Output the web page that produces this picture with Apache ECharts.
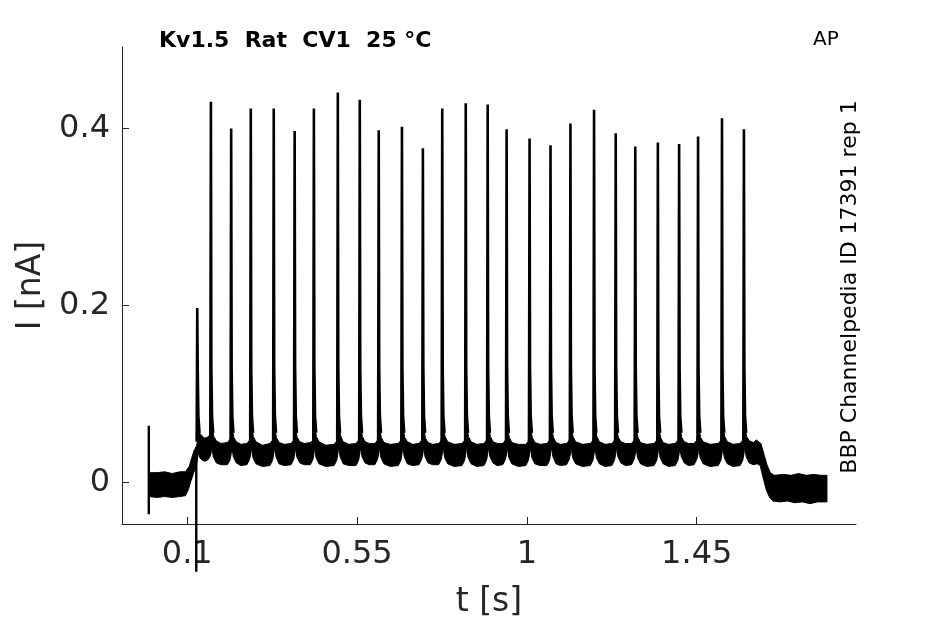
<!DOCTYPE html>
<html>
<head>
<meta charset="utf-8">
<script src="https://cdn.jsdelivr.net/npm/echarts@6/dist/echarts.min.js"></script>
<style>html,body{margin:0;padding:0;background:#fff;}#c{width:945px;height:624px;}</style>
</head>
<body>
<div id="c"></div>
<script>
// ---- data ----
const xTicks = [0.1, 0.55, 1, 1.45];
const yTicks = [0, 0.2, 0.4];
const spikeTimes = [0.1264, 0.1626, 0.2163, 0.2683, 0.3291, 0.3845, 0.4355, 0.4989, 0.5571, 0.6073, 0.6688, 0.7243, 0.7756, 0.8379, 0.8960, 0.9462, 1.0070, 1.0625, 1.1153, 1.1779, 1.2353, 1.2871, 1.3470, 1.4033, 1.4535, 1.5169, 1.5750];
const spikePeaks = [0.197, 0.430, 0.400, 0.4225, 0.4225, 0.397, 0.4225, 0.4405, 0.4325, 0.398, 0.402, 0.3775, 0.4225, 0.4285, 0.427, 0.399, 0.3885, 0.381, 0.4055, 0.421, 0.3945, 0.3795, 0.384, 0.3825, 0.391, 0.4115, 0.399];
// stimulus artifacts: [t, low, high]
const artifacts = [[-0.002, -0.036, 0.064], [0.1238, -0.101, 0.040]];
// upper edge of the noisy current band [t, I]
const upperEdge = [
[-0.002,0.011],[0.02,0.011],[0.04,0.012],[0.06,0.010],[0.08,0.012],[0.095,0.012],[0.105,0.018],[0.112,0.028],[0.118,0.036],[0.1235,0.040],[0.1264,0.045],
[0.129,0.062],[0.134,0.055],[0.141,0.052],[0.145,0.050],[0.153,0.051],[0.159,0.053],[0.1626,0.056],
[0.166,0.063],[0.170,0.052],[0.177,0.047],[0.189,0.044],[0.206,0.045],[0.212,0.048],[0.2163,0.052],
[0.219,0.062],[0.223,0.051],[0.230,0.046],[0.242,0.043],[0.258,0.044],[0.264,0.047],[0.2683,0.052],
[0.271,0.063],[0.275,0.052],[0.282,0.046],[0.299,0.042],[0.319,0.044],[0.325,0.047],[0.3291,0.052],
[0.332,0.062],[0.336,0.051],[0.343,0.045],[0.357,0.043],[0.375,0.044],[0.381,0.047],[0.3845,0.052],
[0.387,0.061],[0.391,0.051],[0.398,0.046],[0.410,0.044],[0.426,0.045],[0.432,0.047],[0.4355,0.052],
[0.438,0.063],[0.442,0.052],[0.449,0.046],[0.467,0.042],[0.489,0.043],[0.495,0.046],[0.4989,0.052],
[0.502,0.064],[0.506,0.053],[0.513,0.046],[0.528,0.043],[0.547,0.044],[0.553,0.047],[0.5571,0.052],
[0.560,0.063],[0.564,0.052],[0.571,0.046],[0.582,0.044],[0.597,0.044],[0.603,0.047],[0.6073,0.052],
[0.610,0.062],[0.614,0.051],[0.621,0.045],[0.638,0.043],[0.659,0.044],[0.665,0.047],[0.6688,0.052],
[0.672,0.062],[0.676,0.051],[0.683,0.046],[0.697,0.043],[0.714,0.044],[0.720,0.047],[0.7243,0.052],
[0.727,0.061],[0.731,0.050],[0.738,0.045],[0.750,0.043],[0.766,0.044],[0.772,0.047],[0.7756,0.052],
[0.779,0.063],[0.783,0.052],[0.790,0.046],[0.807,0.043],[0.828,0.044],[0.834,0.047],[0.8379,0.052],
[0.841,0.063],[0.845,0.052],[0.852,0.046],[0.867,0.043],[0.886,0.044],[0.892,0.047],[0.8960,0.052],
[0.899,0.063],[0.903,0.052],[0.910,0.046],[0.921,0.044],[0.936,0.044],[0.942,0.047],[0.9462,0.052],
[0.949,0.062],[0.953,0.051],[0.960,0.045],[0.977,0.043],[0.997,0.043],[1.003,0.046],[1.0070,0.052],
[1.010,0.062],[1.014,0.051],[1.021,0.045],[1.035,0.043],[1.053,0.044],[1.059,0.047],[1.0625,0.052],
[1.066,0.061],[1.070,0.051],[1.077,0.045],[1.089,0.043],[1.105,0.044],[1.111,0.047],[1.1153,0.052],
[1.118,0.062],[1.122,0.052],[1.129,0.046],[1.147,0.043],[1.168,0.044],[1.174,0.047],[1.1779,0.052],
[1.181,0.063],[1.185,0.052],[1.192,0.046],[1.207,0.043],[1.225,0.044],[1.231,0.047],[1.2353,0.052],
[1.238,0.062],[1.242,0.051],[1.249,0.046],[1.261,0.044],[1.277,0.044],[1.283,0.047],[1.2871,0.052],
[1.290,0.061],[1.294,0.051],[1.301,0.045],[1.317,0.043],[1.337,0.044],[1.343,0.047],[1.3470,0.052],
[1.350,0.062],[1.354,0.051],[1.361,0.045],[1.375,0.043],[1.393,0.044],[1.399,0.047],[1.4033,0.052],
[1.406,0.062],[1.410,0.051],[1.417,0.046],[1.428,0.044],[1.443,0.044],[1.449,0.047],[1.4535,0.052],
[1.456,0.062],[1.460,0.051],[1.467,0.046],[1.485,0.043],[1.507,0.044],[1.513,0.047],[1.5169,0.052],
[1.520,0.063],[1.524,0.052],[1.531,0.046],[1.546,0.043],[1.565,0.044],[1.571,0.047],[1.5750,0.052],
[1.578,0.062],[1.582,0.052],[1.589,0.047],[1.600,0.045],[1.608,0.048],[1.614,0.046],[1.620,0.044],[1.628,0.032],[1.636,0.020],[1.645,0.011],[1.655,0.008],
[1.68,0.009],[1.70,0.008],[1.72,0.010],[1.74,0.008],[1.76,0.009],[1.78,0.008],[1.795,0.008]
];
// lower edge of the noisy current band [t, I]
const lowerEdge = [
[-0.002,-0.016],[0.02,-0.017],[0.04,-0.016],[0.06,-0.017],[0.08,-0.016],[0.095,-0.015],[0.103,-0.008],[0.110,0.002],[0.117,0.011],[0.123,0.018],[0.1264,0.024],
[0.129,0.034],[0.133,0.028],[0.140,0.025],[0.146,0.024],[0.153,0.025],[0.159,0.028],[0.1626,0.032],
[0.165,0.040],[0.169,0.029],[0.177,0.022],[0.189,0.020],[0.206,0.020],[0.213,0.025],[0.2163,0.032],
[0.218,0.040],[0.222,0.029],[0.230,0.022],[0.242,0.019],[0.258,0.020],[0.265,0.026],[0.2683,0.032],
[0.270,0.040],[0.274,0.028],[0.282,0.021],[0.299,0.018],[0.319,0.019],[0.326,0.025],[0.3291,0.032],
[0.331,0.040],[0.335,0.029],[0.343,0.021],[0.357,0.019],[0.375,0.020],[0.382,0.026],[0.3845,0.032],
[0.386,0.040],[0.390,0.029],[0.398,0.022],[0.410,0.020],[0.426,0.020],[0.433,0.026],[0.4355,0.032],
[0.437,0.040],[0.441,0.028],[0.449,0.021],[0.467,0.018],[0.489,0.019],[0.496,0.025],[0.4989,0.032],
[0.501,0.040],[0.505,0.029],[0.513,0.021],[0.528,0.019],[0.547,0.019],[0.554,0.025],[0.5571,0.032],
[0.559,0.040],[0.563,0.029],[0.571,0.022],[0.582,0.020],[0.597,0.020],[0.604,0.026],[0.6073,0.032],
[0.609,0.040],[0.613,0.028],[0.621,0.021],[0.638,0.018],[0.659,0.019],[0.666,0.025],[0.6688,0.032],
[0.671,0.040],[0.675,0.029],[0.683,0.021],[0.697,0.019],[0.714,0.020],[0.721,0.026],[0.7243,0.032],
[0.726,0.040],[0.730,0.029],[0.738,0.022],[0.750,0.020],[0.766,0.020],[0.773,0.026],[0.7756,0.032],
[0.778,0.040],[0.782,0.028],[0.790,0.021],[0.807,0.018],[0.828,0.019],[0.835,0.025],[0.8379,0.032],
[0.840,0.040],[0.844,0.028],[0.852,0.021],[0.867,0.018],[0.886,0.019],[0.893,0.025],[0.8960,0.032],
[0.898,0.040],[0.902,0.029],[0.910,0.022],[0.921,0.019],[0.936,0.020],[0.943,0.026],[0.9462,0.032],
[0.948,0.040],[0.952,0.028],[0.960,0.021],[0.977,0.018],[0.997,0.019],[1.004,0.025],[1.0070,0.032],
[1.009,0.040],[1.013,0.028],[1.021,0.021],[1.035,0.019],[1.053,0.019],[1.060,0.025],[1.0625,0.032],
[1.065,0.040],[1.069,0.029],[1.077,0.021],[1.089,0.019],[1.105,0.020],[1.112,0.026],[1.1153,0.032],
[1.117,0.040],[1.121,0.028],[1.129,0.021],[1.147,0.018],[1.168,0.019],[1.175,0.025],[1.1779,0.032],
[1.180,0.040],[1.184,0.028],[1.192,0.021],[1.207,0.018],[1.225,0.019],[1.232,0.025],[1.2353,0.032],
[1.237,0.040],[1.241,0.029],[1.249,0.022],[1.261,0.019],[1.277,0.020],[1.284,0.026],[1.2871,0.032],
[1.289,0.040],[1.293,0.028],[1.301,0.021],[1.317,0.018],[1.337,0.019],[1.344,0.025],[1.3470,0.032],
[1.349,0.040],[1.353,0.028],[1.361,0.021],[1.375,0.018],[1.393,0.019],[1.400,0.025],[1.4033,0.032],
[1.405,0.040],[1.409,0.029],[1.417,0.022],[1.428,0.019],[1.443,0.020],[1.450,0.026],[1.4535,0.032],
[1.455,0.040],[1.459,0.028],[1.467,0.021],[1.485,0.018],[1.507,0.019],[1.514,0.025],[1.5169,0.032],
[1.519,0.040],[1.523,0.028],[1.531,0.021],[1.546,0.018],[1.565,0.019],[1.572,0.025],[1.5750,0.032],
[1.577,0.040],[1.581,0.029],[1.589,0.022],[1.600,0.020],[1.610,0.021],[1.618,0.019],[1.626,0.005],[1.634,-0.008],[1.643,-0.017],[1.652,-0.021],
[1.67,-0.022],[1.69,-0.021],[1.71,-0.023],[1.73,-0.022],[1.75,-0.024],[1.77,-0.022],[1.795,-0.022]
];

// ---- build series data ----
const spikeLine = [];
spikeTimes.forEach((t, i) => {
  spikeLine.push([t - 0.0016, 0.046], [t, spikePeaks[i]], [t + 0.0012, 0.13], [t + 0.003, 0.075], [t + 0.006, 0.056], [null, null]);
});
const artifactLine = [];
artifacts.forEach(a => { artifactLine.push([a[0], a[1]], [a[0], a[2]], [null, null]); });

const textColor = '#262626';
const chart = echarts.init(document.getElementById('c'), null, {renderer: 'canvas'});
chart.setOption({
  animation: false,
  backgroundColor: '#fff',
  grid: {left: 122, right: 89, top: 47, bottom: 98, containLabel: false},
  title: [
    {text: 'Kv1.5  Rat  CV1  25 °C', left: 154, top: 25,
     textStyle: {fontFamily: 'DejaVu Sans', fontWeight: 'bold', fontSize: 22, color: '#000'}},
    {text: 'AP', left: 808, top: 25,
     textStyle: {fontFamily: 'DejaVu Sans', fontWeight: 'normal', fontSize: 20, color: '#000'}}
  ],
  graphic: [{
    type: 'text', x: 850, y: 287, rotation: Math.PI / 2,
    style: {text: 'BBP Channelpedia ID 17391 rep 1', fontFamily: 'DejaVu Sans', fontSize: 22,
            fill: '#000', align: 'center', verticalAlign: 'middle'}
  }],
  xAxis: {
    type: 'value', min: -0.073, max: 1.872,
    name: 't [s]', nameLocation: 'middle', nameGap: 62,
    nameTextStyle: {fontFamily: 'DejaVu Sans', fontSize: 33, color: textColor},
    axisLine: {show: true, onZero: false, lineStyle: {color: textColor, width: 1}},
    axisTick: {show: true, inside: true, length: 7, customValues: xTicks, lineStyle: {color: textColor}},
    axisLabel: {customValues: xTicks, margin: 15, fontFamily: 'DejaVu Sans', fontSize: 32, color: textColor},
    splitLine: {show: false}
  },
  yAxis: {
    type: 'value', min: -0.047, max: 0.492,
    name: 'I [nA]', nameLocation: 'middle', nameGap: 72,
    nameTextStyle: {fontFamily: 'DejaVu Sans', fontSize: 33, color: textColor},
    axisLine: {show: true, onZero: false, lineStyle: {color: textColor, width: 1}},
    axisTick: {show: true, inside: true, length: 7, customValues: yTicks, lineStyle: {color: textColor}},
    axisLabel: {customValues: yTicks, margin: 12, fontFamily: 'DejaVu Sans', fontSize: 32, color: textColor},
    splitLine: {show: false}
  },
  series: [
    {
      type: 'custom', coordinateSystem: 'cartesian2d', data: [[0, 0]], silent: true,
      renderItem: function (params, api) {
        const pts = upperEdge.map(p => api.coord(p)).concat(lowerEdge.slice().reverse().map(p => api.coord(p)));
        return {type: 'polygon', shape: {points: pts}, style: {fill: '#000', stroke: '#000', lineWidth: 1}};
      }
    },
    {
      type: 'line', data: spikeLine, showSymbol: false, connectNulls: false, silent: true,
      lineStyle: {color: '#000', width: 2.6}
    },
    {
      type: 'line', data: artifactLine, showSymbol: false, connectNulls: false, clip: false, silent: true,
      lineStyle: {color: '#000', width: 2.4}
    }
  ]
});
</script>
</body>
</html>
